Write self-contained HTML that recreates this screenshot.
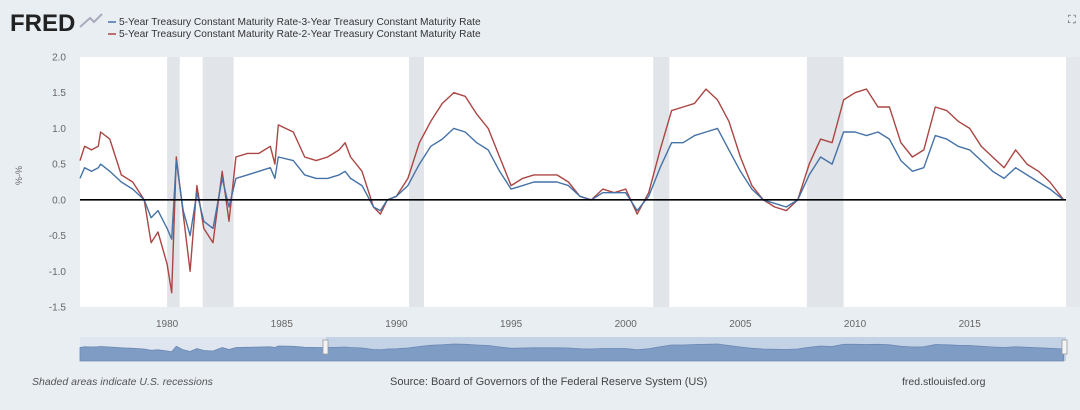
<!DOCTYPE html>
<html><head><meta charset="utf-8"><style>
body{margin:0;background:#e9eef3;width:1080px;height:405px;overflow:hidden;font-family:"Liberation Sans",sans-serif}
</style></head><body>
<svg id="c" width="1080" height="405" font-family="Liberation Sans, sans-serif">
<rect x="0" y="0" width="1080" height="405" fill="#e9eef3"/>
<text x="10" y="31" font-size="24" font-weight="bold" fill="#222">FRED</text>
<path d="M80 27 L90 18 L94 22 L102 14" stroke="#aab" stroke-width="2" fill="none"/>
<line x1="108" y1="22" x2="116" y2="22" stroke="#4572a7" stroke-width="1.5"/>
<text x="119" y="25" font-size="10.2" fill="#333">5-Year Treasury Constant Maturity Rate-3-Year Treasury Constant Maturity Rate</text>
<line x1="108" y1="34" x2="116" y2="34" stroke="#aa4643" stroke-width="1.5"/>
<text x="119" y="37" font-size="10.2" fill="#333">5-Year Treasury Constant Maturity Rate-2-Year Treasury Constant Maturity Rate</text>
<text x="1068" y="23" font-size="11" fill="#555">⛶</text>
<rect x="80" y="57" width="986" height="250" fill="#ffffff"/>
<g id="rec"></g><g id="grid"></g><g id="axes"></g><g id="series"></g>
<text x="22" y="185" font-size="9" fill="#666" transform="rotate(-90 22 185)">%-%</text>
<rect x="80" y="337" width="986" height="24" fill="#dfe6ef"/>
<rect x="326" y="337" width="740" height="24" fill="#c4d2e6"/>
<g id="nav"></g>
<rect x="323" y="340" width="5" height="14" fill="#f4f4f4" stroke="#999" stroke-width="0.8"/>
<rect x="1062" y="340" width="5" height="14" fill="#f4f4f4" stroke="#999" stroke-width="0.8"/>
<text x="32" y="385" font-size="10.5" font-style="italic" fill="#555">Shaded areas indicate U.S. recessions</text>
<text x="390" y="385" font-size="11" fill="#444">Source: Board of Governors of the Federal Reserve System (US)</text>
<text x="902" y="385" font-size="10.5" fill="#444">fred.stlouisfed.org</text>
</svg>
<script>
const years=[1976.2,1976.4,1976.7,1977.0,1977.1,1977.5,1978.0,1978.5,1979.0,1979.3,1979.6,1980.0,1980.2,1980.4,1980.7,1981.0,1981.3,1981.6,1982.0,1982.4,1982.7,1983.0,1983.5,1984.0,1984.5,1984.7,1984.85,1985.5,1986.0,1986.5,1987.0,1987.5,1987.76,1988.0,1988.5,1989.0,1989.3,1989.6,1990.0,1990.5,1991.0,1991.5,1992.0,1992.5,1993.0,1993.5,1994.0,1994.5,1995.0,1995.5,1996.0,1996.5,1997.0,1997.5,1998.0,1998.5,1999.0,1999.5,2000.0,2000.5,2001.0,2001.5,2002.0,2002.5,2003.0,2003.5,2004.0,2004.5,2005.0,2005.5,2006.0,2006.5,2007.0,2007.5,2008.0,2008.5,2009.0,2009.5,2010.0,2010.5,2011.0,2011.5,2012.0,2012.5,2013.0,2013.5,2014.0,2014.5,2015.0,2015.5,2016.0,2016.5,2017.0,2017.5,2018.0,2018.5,2019.1];
const spread53=[0.3,0.45,0.4,0.45,0.5,0.4,0.25,0.15,0.0,-0.25,-0.15,-0.4,-0.55,0.55,-0.15,-0.5,0.1,-0.3,-0.4,0.3,-0.1,0.3,0.35,0.4,0.45,0.3,0.6,0.55,0.35,0.3,0.3,0.35,0.4,0.3,0.2,-0.1,-0.15,0.0,0.05,0.2,0.5,0.75,0.85,1.0,0.95,0.8,0.7,0.4,0.15,0.2,0.25,0.25,0.25,0.2,0.05,0.0,0.1,0.1,0.1,-0.15,0.05,0.45,0.8,0.8,0.9,0.95,1.0,0.7,0.4,0.15,0.0,-0.05,-0.1,0.0,0.35,0.6,0.5,0.95,0.95,0.9,0.95,0.85,0.55,0.4,0.45,0.9,0.85,0.75,0.7,0.55,0.4,0.3,0.45,0.35,0.25,0.15,0.0];
const spread52=[0.55,0.75,0.7,0.75,0.95,0.85,0.35,0.25,0.0,-0.6,-0.45,-0.9,-1.3,0.6,-0.2,-1.0,0.2,-0.4,-0.6,0.4,-0.3,0.6,0.65,0.65,0.75,0.5,1.05,0.95,0.6,0.55,0.6,0.7,0.8,0.6,0.4,-0.1,-0.2,0.0,0.05,0.3,0.8,1.1,1.35,1.5,1.45,1.2,1.0,0.6,0.2,0.3,0.35,0.35,0.35,0.25,0.05,0.0,0.15,0.1,0.15,-0.2,0.1,0.7,1.25,1.3,1.35,1.55,1.4,1.1,0.6,0.2,0.0,-0.1,-0.15,0.0,0.5,0.85,0.8,1.4,1.5,1.55,1.3,1.3,0.8,0.6,0.7,1.3,1.25,1.1,1.0,0.75,0.6,0.45,0.7,0.5,0.4,0.25,0.0];
const recessions=[[1980.0,1980.55],[1981.55,1982.9],[1990.55,1991.2],[2001.2,2001.9],[2007.9,2009.5]];
const yTicks=[2.0,1.5,1.0,0.5,0.0,-0.5,-1.0,-1.5];
const xTicks=[1980,1985,1990,1995,2000,2005,2010,2015];
const NS="http://www.w3.org/2000/svg";
const X0=80,X1=1066,Y0=57,Y1=307,T0=1976.2,T1=2019.2,V0=-1.5,V1=2.0;
function xs(t){return X0+(t-T0)/(T1-T0)*(X1-X0);}
function ys(v){return Y1-(v-V0)/(V1-V0)*(Y1-Y0);}
function mk(tag,attrs,parent){const e=document.createElementNS(NS,tag);for(const k in attrs)e.setAttribute(k,attrs[k]);document.getElementById(parent).appendChild(e);return e;}
recessions.forEach(r=>{
 const e=mk('rect',{x:xs(r[0]),y:Y0,width:xs(r[1])-xs(r[0]),height:Y1-Y0,fill:'#e1e4e8'},'rec');
 
 
});
const g2=mk('rect',{x:X1,y:Y0,width:14,height:Y1-Y0,fill:'#e4e8ec'},'rec');
yTicks.forEach(v=>{
 const t=mk('text',{x:66,y:ys(v)+3.5,'font-size':10,fill:'#666','text-anchor':'end'},'axes');
 t.textContent=v.toFixed(1);
 
 
});
xTicks.forEach(yr=>{
 const t=mk('text',{x:xs(yr),y:327,'font-size':10,fill:'#666','text-anchor':'middle'},'axes');
 t.textContent=yr;
 
 
});
function line(vals,color,name){
 const d=vals.map((v,i)=>(i?'L':'M')+xs(years[i]).toFixed(1)+' '+ys(v).toFixed(1)).join(' ');
 const p=mk('path',{d:d,stroke:color,'stroke-width':1.4,fill:'none','stroke-linejoin':'round'},'series');
 
 
}
line(spread52,'#aa4643','series-5y-2y-line');
line(spread53,'#4572a7','series-5y-3y-line');
const z=mk('line',{x1:X0,x2:X1,y1:ys(0),y2:ys(0),stroke:'#000','stroke-width':1.6},'series');


function nx(t){return xs(t);}
function ny(v){return 349-v*5;}
let nd='M'+nx(years[0])+' 361 '+spread53.map((v,i)=>'L'+nx(years[i]).toFixed(1)+' '+ny(v).toFixed(1)).join(' ')+' L'+nx(years[years.length-1])+' 361 Z';
const np=mk('path',{d:nd,fill:'#7f9cc4',stroke:'#6a88b4','stroke-width':0.8},'nav');


</script>
</body></html>
